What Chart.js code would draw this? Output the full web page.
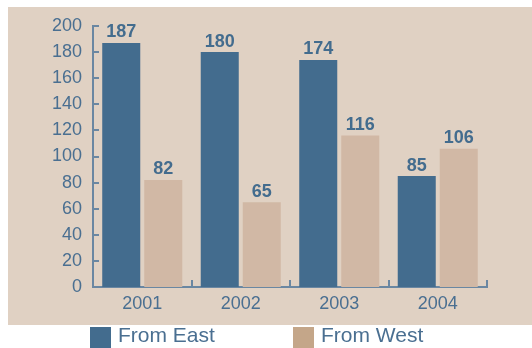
<!DOCTYPE html>
<html>
<head>
<meta charset="utf-8">
<script src="https://cdn.jsdelivr.net/npm/chart.js@4/dist/chart.umd.min.js"></script>
<style>
  html, body { margin: 0; padding: 0; background: #fff; }
  #wrap { position: relative; width: 532px; height: 348px; }
</style>
</head>
<body>
<div id="wrap"><canvas id="chart" width="532" height="348"></canvas></div>
<script>
// chart data
const categories = ['2001', '2002', '2003', '2004'];
const fromEast = [187, 180, 174, 85];
const fromWest = [82, 65, 116, 106];
const seriesNames = ['From East', 'From West'];
const yTickValues = [0, 20, 40, 60, 80, 100, 120, 140, 160, 180, 200];

const blue = '#436c8e';
const tan = '#d1b8a5';
const textColor = '#4a6f91';
const axisColor = '#6a87a2';

Chart.defaults.font.family = '"Liberation Sans", Arial, Helvetica, sans-serif';

// beige panel behind the plot
const panelPlugin = {
  id: 'panel',
  beforeDraw(chart) {
    const ctx = chart.ctx;
    ctx.save();
    ctx.fillStyle = '#e0d1c3';
    ctx.fillRect(8, 7, 524, 318);
    ctx.restore();
  }
};

// small inward tick marks on both axes
const tickMarks = {
  id: 'tickMarks',
  afterDraw(chart) {
    const ctx = chart.ctx;
    const x = chart.scales.x, y = chart.scales.y;
    ctx.save();
    ctx.strokeStyle = axisColor;
    ctx.lineWidth = 2;
    ctx.beginPath();
    yTickValues.forEach(v => {
      const py = Math.round(y.getPixelForValue(v));
      ctx.moveTo(x.left, py);
      ctx.lineTo(x.left + 6, py);
    });
    for (let i = 0; i <= categories.length; i++) {
      const px = Math.round(x.getPixelForValue(i - 0.5));
      ctx.moveTo(px, y.bottom);
      ctx.lineTo(px, y.bottom - 7);
    }
    ctx.stroke();
    ctx.restore();
  }
};

// value labels over the bars
const barLabels = {
  id: 'barLabels',
  afterDatasetsDraw(chart) {
    const ctx = chart.ctx;
    ctx.save();
    ctx.font = 'bold 18px "Liberation Sans", Arial, sans-serif';
    ctx.fillStyle = blue;
    ctx.textAlign = 'center';
    ctx.textBaseline = 'alphabetic';
    chart.data.datasets.forEach((ds, di) => {
      chart.getDatasetMeta(di).data.forEach((bar, i) => {
        ctx.fillText(String(ds.data[i]), bar.x, bar.y - 5.5);
      });
    });
    ctx.restore();
  }
};

// legend under the panel
const legendSwatches = ['#436c8e', '#c4a689'];
const bottomLegend = {
  id: 'bottomLegend',
  afterDraw(chart) {
    const ctx = chart.ctx;
    const spots = [90, 293];
    ctx.save();
    ctx.font = '21px "Liberation Sans", Arial, sans-serif';
    ctx.textBaseline = 'alphabetic';
    ctx.textAlign = 'left';
    seriesNames.forEach((name, i) => {
      ctx.fillStyle = legendSwatches[i];
      ctx.fillRect(spots[i], 327, 21, 21);
      ctx.fillStyle = textColor;
      ctx.fillText(name, spots[i] + 28, 342);
    });
    ctx.restore();
  }
};

new Chart(document.getElementById('chart'), {
  type: 'bar',
  data: {
    labels: categories,
    datasets: [
      { label: seriesNames[0], data: fromEast, backgroundColor: blue },
      { label: seriesNames[1], data: fromWest, backgroundColor: tan }
    ]
  },
  options: {
    responsive: false,
    animation: false,
    categoryPercentage: 0.853,
    barPercentage: 0.905,
    layout: { padding: { left: 8, right: 45, top: 26, bottom: 0 } },
    plugins: {
      legend: { display: false },
      tooltip: { enabled: false }
    },
    scales: {
      x: {
        grid: { display: false, drawTicks: false },
        border: { display: true, color: axisColor, width: 2 },
        ticks: { color: textColor, font: { size: 18 }, padding: 6 },
        afterFit(scale) { scale.height = 61; }
      },
      y: {
        min: 0,
        max: 200,
        grid: { display: false, drawTicks: false },
        border: { display: true, color: axisColor, width: 2 },
        ticks: { color: textColor, font: { size: 18 }, padding: 11, stepSize: 20 },
        afterFit(scale) { scale.width = 85; }
      }
    }
  },
  plugins: [panelPlugin, tickMarks, barLabels, bottomLegend]
});
</script>
</body>
</html>
